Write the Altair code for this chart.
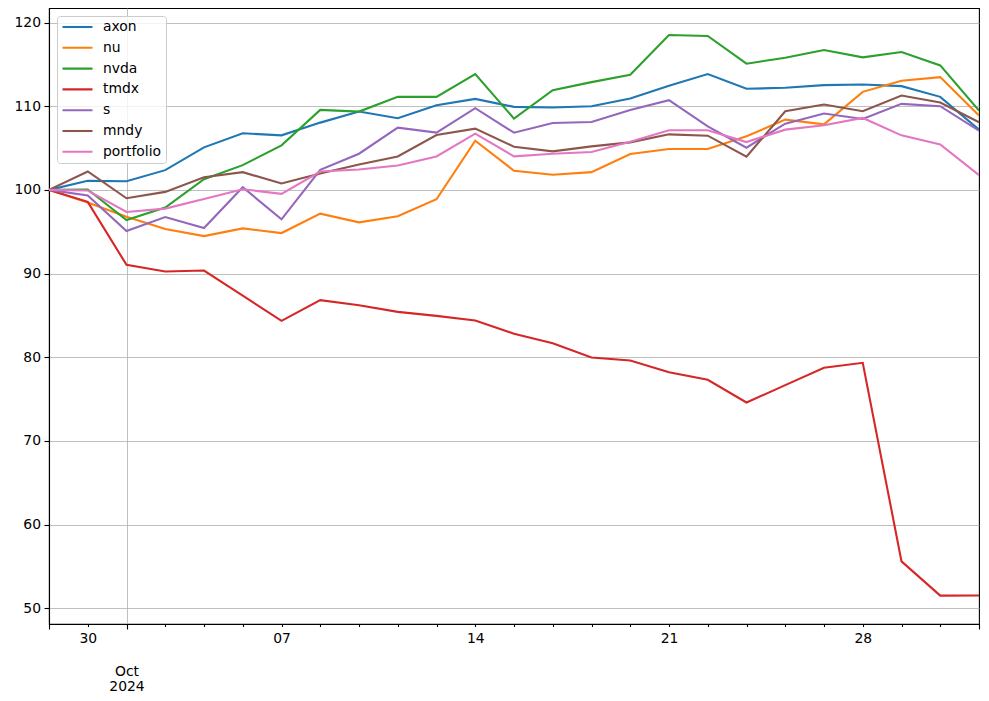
import altair as alt
import pandas as pd

# business days (x positions are trading-day index, as in a pandas period plot)
dates = ["2024-09-27", "2024-09-30", "2024-10-01", "2024-10-02", "2024-10-03", "2024-10-04",
         "2024-10-07", "2024-10-08", "2024-10-09", "2024-10-10", "2024-10-11",
         "2024-10-14", "2024-10-15", "2024-10-16", "2024-10-17", "2024-10-18",
         "2024-10-21", "2024-10-22", "2024-10-23", "2024-10-24", "2024-10-25",
         "2024-10-28", "2024-10-29", "2024-10-30", "2024-10-31"]

series_names = ["axon", "nu", "nvda", "tmdx", "s", "mndy", "portfolio"]
series_colors = ["#1f77b4", "#ff7f0e", "#2ca02c", "#d62728", "#9467bd", "#8c564b", "#e377c2"]

axon = [100.0, 101.08, 101.04, 102.36, 105.08, 106.76, 106.52, 108.04, 109.36, 108.56,
        110.12, 110.88, 109.92, 109.84, 110.0, 110.92, 112.44, 113.84, 112.08, 112.2,
        112.52, 112.6, 112.4, 111.12, 107.2]
nu = [100.0, 98.48, 96.8, 95.32, 94.48, 95.4, 94.84, 97.16, 96.12, 96.84,
      98.88, 105.88, 102.28, 101.8, 102.12, 104.28, 104.88, 104.88, 106.4, 108.4,
      107.84, 111.72, 113.04, 113.48, 108.88]
nvda = [100.0, 100.04, 96.4, 97.88, 101.28, 102.96, 105.32, 109.56, 109.36, 111.12,
        111.12, 113.84, 108.52, 111.92, 112.88, 113.76, 118.52, 118.4, 115.08, 115.8,
        116.72, 115.84, 116.48, 114.88, 109.48]
tmdx = [100.0, 98.57, 91.04, 90.24, 90.36, 87.37, 84.35, 86.82, 86.22, 85.42,
        84.94, 84.39, 82.8, 81.68, 79.97, 79.6, 78.21, 77.3, 74.59, 76.66,
        78.73, 79.33, 55.6, 51.5, 51.52]
s = [100.0, 99.32, 95.08, 96.76, 95.44, 100.32, 96.48, 102.4, 104.32, 107.44,
     106.84, 109.76, 106.84, 108.0, 108.12, 109.56, 110.72, 107.6, 105.04, 107.92,
     109.12, 108.48, 110.28, 110.0, 107.08]
mndy = [100.0, 102.2, 99.0, 99.76, 101.52, 102.12, 100.76, 101.96, 103.04, 104.0,
        106.56, 107.32, 105.16, 104.6, 105.2, 105.68, 106.64, 106.48, 103.96, 109.4,
        110.2, 109.4, 111.28, 110.44, 108.08]
portfolio = [100.0, 99.92, 97.36, 97.76, 98.92, 100.08, 99.52, 102.2, 102.44, 102.92,
             104.0, 106.72, 104.0, 104.32, 104.52, 105.76, 107.12, 107.12, 105.72, 107.2,
             107.72, 108.6, 106.52, 105.44, 101.76]

# tick labels: position in the business-day index -> label lines
tick_label_pos = [1, 2, 6, 11, 16, 21]
tick_label_text = [["30"], ["Oct", "2024"], ["07"], ["14"], ["21"], ["28"]]
y_ticks = [50, 60, 70, 80, 90, 100, 110, 120]

values = [axon, nu, nvda, tmdx, s, mndy, portfolio]
rows = []
for name, vals in zip(series_names, values):
    for i, (d, v) in enumerate(zip(dates, vals)):
        rows.append({"day": i, "date": d, "series": name, "value": v})
df = pd.DataFrame(rows)

n = len(dates)
expr = "''"
for p, t in reversed(list(zip(tick_label_pos, tick_label_text))):
    lit = "'" + t[0] + "'" if len(t) == 1 else "[" + ",".join("'" + x + "'" for x in t) + "]"
    expr = f"datum.value == {p} ? {lit} : ({expr})"

major = "datum.value == 0 || datum.value == 2 || datum.value == %d" % (n - 1)

FONT = "DejaVu Sans"

chart = alt.Chart(df).mark_line(strokeWidth=2.1, clip=True).encode(
    x=alt.X("day:Q",
            scale=alt.Scale(domain=[0, n - 1], nice=False, zero=False),
            axis=alt.Axis(values=list(range(n)), labelExpr=expr, title=None,
                          labelOverlap=False, labelFlush=False,
                          tickSize=alt.condition(major, alt.value(5), alt.value(2.5)),
                          labelPadding=alt.condition("datum.value == 2", alt.value(35), alt.value(5)),
                          grid=True,
                          gridOpacity=alt.condition("datum.value == 2", alt.value(1), alt.value(0)),
                          gridColor="#b0b0b0", gridWidth=0.8,
                          labelLineHeight=15)),
    y=alt.Y("value:Q",
            scale=alt.Scale(domain=[48.11, 121.74], nice=False, zero=False),
            axis=alt.Axis(values=y_ticks, title=None, tickSize=5, labelPadding=3.5,
                          grid=True, gridColor="#b0b0b0", gridWidth=0.8)),
    color=alt.Color("series:N", title=None,
                    scale=alt.Scale(domain=series_names, range=series_colors),
                    legend=alt.Legend(orient="top-left", offset=7.5, symbolType="stroke",
                                      symbolSize=900, symbolStrokeWidth=2.1,
                                      labelFontSize=13.9, labelFont=FONT, labelColor="black",
                                      labelOffset=9, clipHeight=14, rowPadding=6.8, padding=4,
                                      strokeColor="#cccccc", fillColor="rgba(255,255,255,0.8)",
                                      cornerRadius=3)),
    detail="series:N",
).properties(
    width=930, height=616,
    autosize=alt.AutoSizeParams(type="none"),
    padding={"left": 41, "top": 0, "right": 2, "bottom": 72},
).configure_view(
    stroke="black", strokeWidth=1.1
).configure_axis(
    labelFont=FONT, labelFontSize=13.9, labelColor="black",
    domainColor="black", domainWidth=1.1, tickColor="black", tickWidth=1.1,
)

chart.save("out.html", embed_options={"renderer": "svg", "actions": False})
